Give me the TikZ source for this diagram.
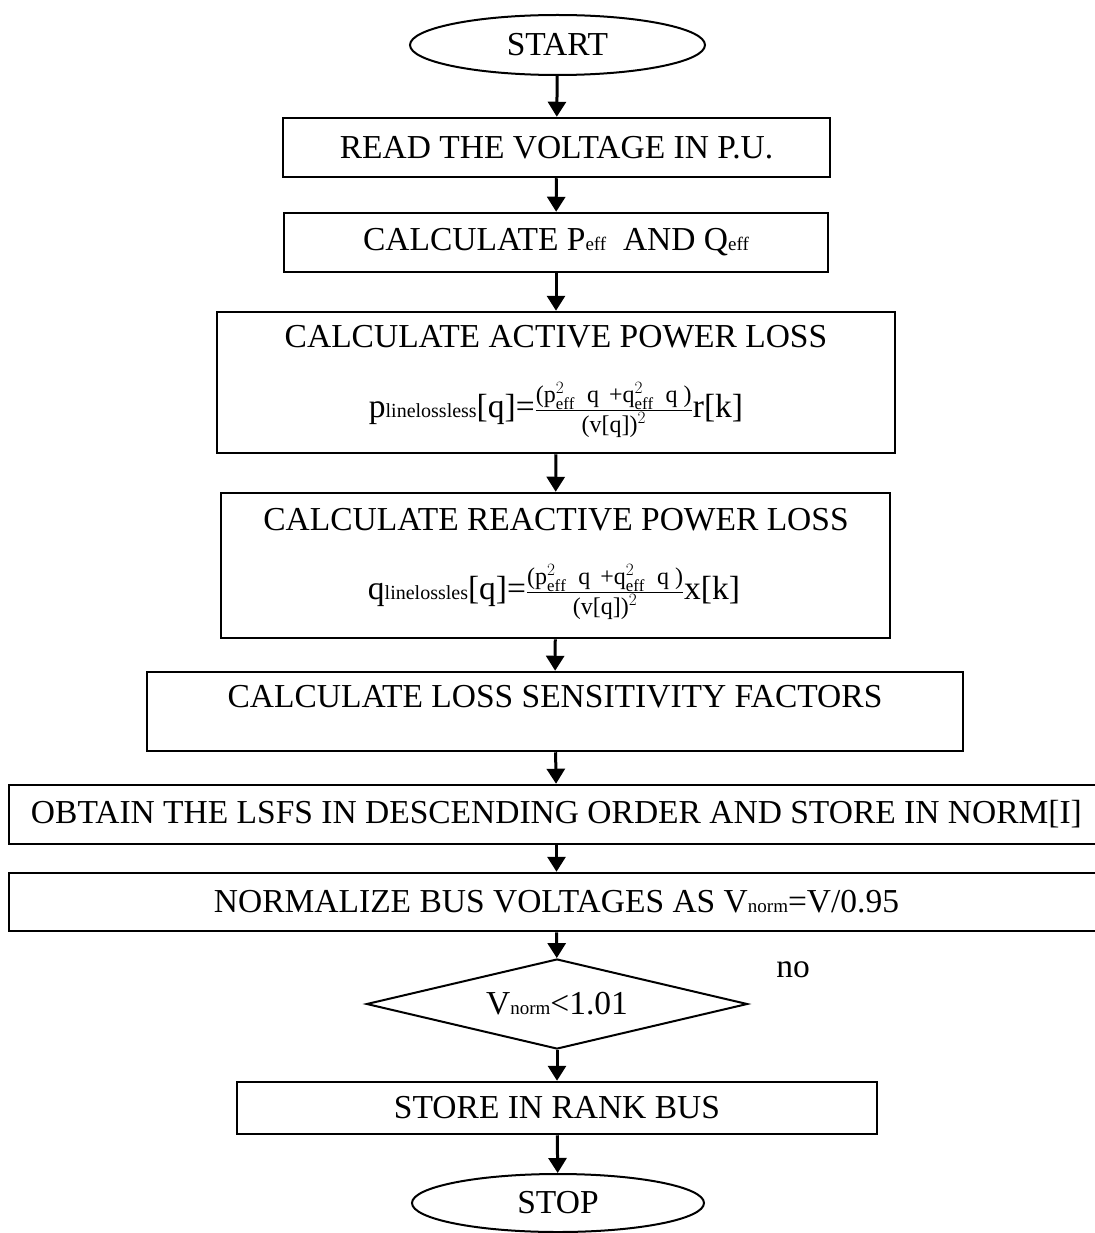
\documentclass[tikz,border=0pt]{standalone}
\usepackage{amsmath}
\usepackage{fontspec}
\setmainfont{Liberation Serif}
\usepackage{tikz}
\usetikzlibrary{arrows.meta, shapes.geometric}

\begin{document}
\begin{tikzpicture}[x=1pt, y=-1pt, >={Triangle[length=15pt, width=18pt]}]
    \tikzstyle{box}=[rectangle, draw, line width=2.5pt, inner sep=0pt, font=\fontsize{33.5}{40}\selectfont]
    \tikzstyle{term}=[ellipse, draw, line width=2pt, inner sep=0pt, font=\fontsize{33.5}{40}\selectfont]
    \tikzstyle{dec}=[diamond, aspect=4.2, draw, line width=2pt, inner sep=0pt, font=\fontsize{33.5}{40}\selectfont]
    \tikzstyle{txt}=[inner sep=0pt, font=\fontsize{33.5}{40}\selectfont]

    \useasboundingbox (0,0) rectangle (1094,1233);

    \node[term, minimum width=295pt, minimum height=60pt] (start) at (557.5,45) {START};
    \node[box, minimum width=547pt, minimum height=59pt] (read) at (556.5,147.5) {READ THE VOLTAGE IN P.U.};
    \node[box, minimum width=544pt, minimum height=59pt] (calc) at (556,242.5)
        {CALCULATE P{\fontsize{19}{19}\selectfont eff}\ \ AND Q{\fontsize{19}{19}\selectfont eff}};
    \node[box, minimum width=678pt, minimum height=141pt] (act) at (556,382.5) {};
    \node[txt] (act-t) at (556,337) {CALCULATE ACTIVE POWER LOSS};
    \node[txt] (act-f) at (556,410)
        {p{\fontsize{20}{20}\selectfont linelossless}[q]=$\frac{\mbox{\fontsize{24}{24}\selectfont(p$^{2}_{\mathrm{eff}}$\ \ q\ \,+q$^{2}_{\mathrm{eff}}$\ \ q\ )}}{\mbox{\fontsize{24}{24}\selectfont(v[q])$^{2}$}}$r[k]};
    \node[box, minimum width=669pt, minimum height=145pt] (react) at (555.5,565.5) {};
    \node[txt] (react-t) at (556,520) {CALCULATE REACTIVE POWER LOSS};
    \node[txt] (react-f) at (554,592)
        {q{\fontsize{20}{20}\selectfont linelossles}[q]=$\frac{\mbox{\fontsize{24}{24}\selectfont(p$^{2}_{\mathrm{eff}}$\ \ q\ \,+q$^{2}_{\mathrm{eff}}$\ \ q\ )}}{\mbox{\fontsize{24}{24}\selectfont(v[q])$^{2}$}}$x[k]};
    \node[box, minimum width=816pt, minimum height=79pt] (lsf) at (555,711.5) {};
    \node[txt] (lsf-t) at (555,697) {CALCULATE LOSS SENSITIVITY FACTORS};
    \node[box, minimum width=1095pt, minimum height=59pt] (order) at (556.5,814.5)
        {OBTAIN THE LSFS IN DESCENDING ORDER AND STORE IN NORM[I]};
    \node[box, minimum width=1095pt, minimum height=58pt] (norm) at (556.5,902)
        {NORMALIZE BUS VOLTAGES AS V{\fontsize{19}{19}\selectfont norm}=V/0.95};
    \node[dec, minimum width=381pt, minimum height=90pt] (check) at (557,1004)
        {V{\fontsize{19}{19}\selectfont norm}<1.01};
    \node[txt] (no) at (793,970) {no};
    \node[box, minimum width=640pt, minimum height=52pt] (rank) at (557,1108) {STORE IN RANK BUS};
    \node[term, minimum width=292pt, minimum height=58pt] (stop) at (558,1203) {STOP};

    \draw[->, line width=3pt] (start) -- (read);
    \draw[->, line width=3pt] (read) -- (calc);
    \draw[->, line width=3pt] (calc) -- (act);
    \draw[->, line width=3pt] (act) -- (react);
    \draw[->, line width=3pt] (react) -- (lsf);
    \draw[->, line width=3pt] (lsf) -- (order);
    \draw[->, line width=3pt] (order) -- (norm);
    \draw[->, line width=3pt] (norm) -- (check);
    \draw[->, line width=3pt] (check) -- (rank);
    \draw[->, line width=3pt] (rank) -- (stop);
\end{tikzpicture}
\end{document}
